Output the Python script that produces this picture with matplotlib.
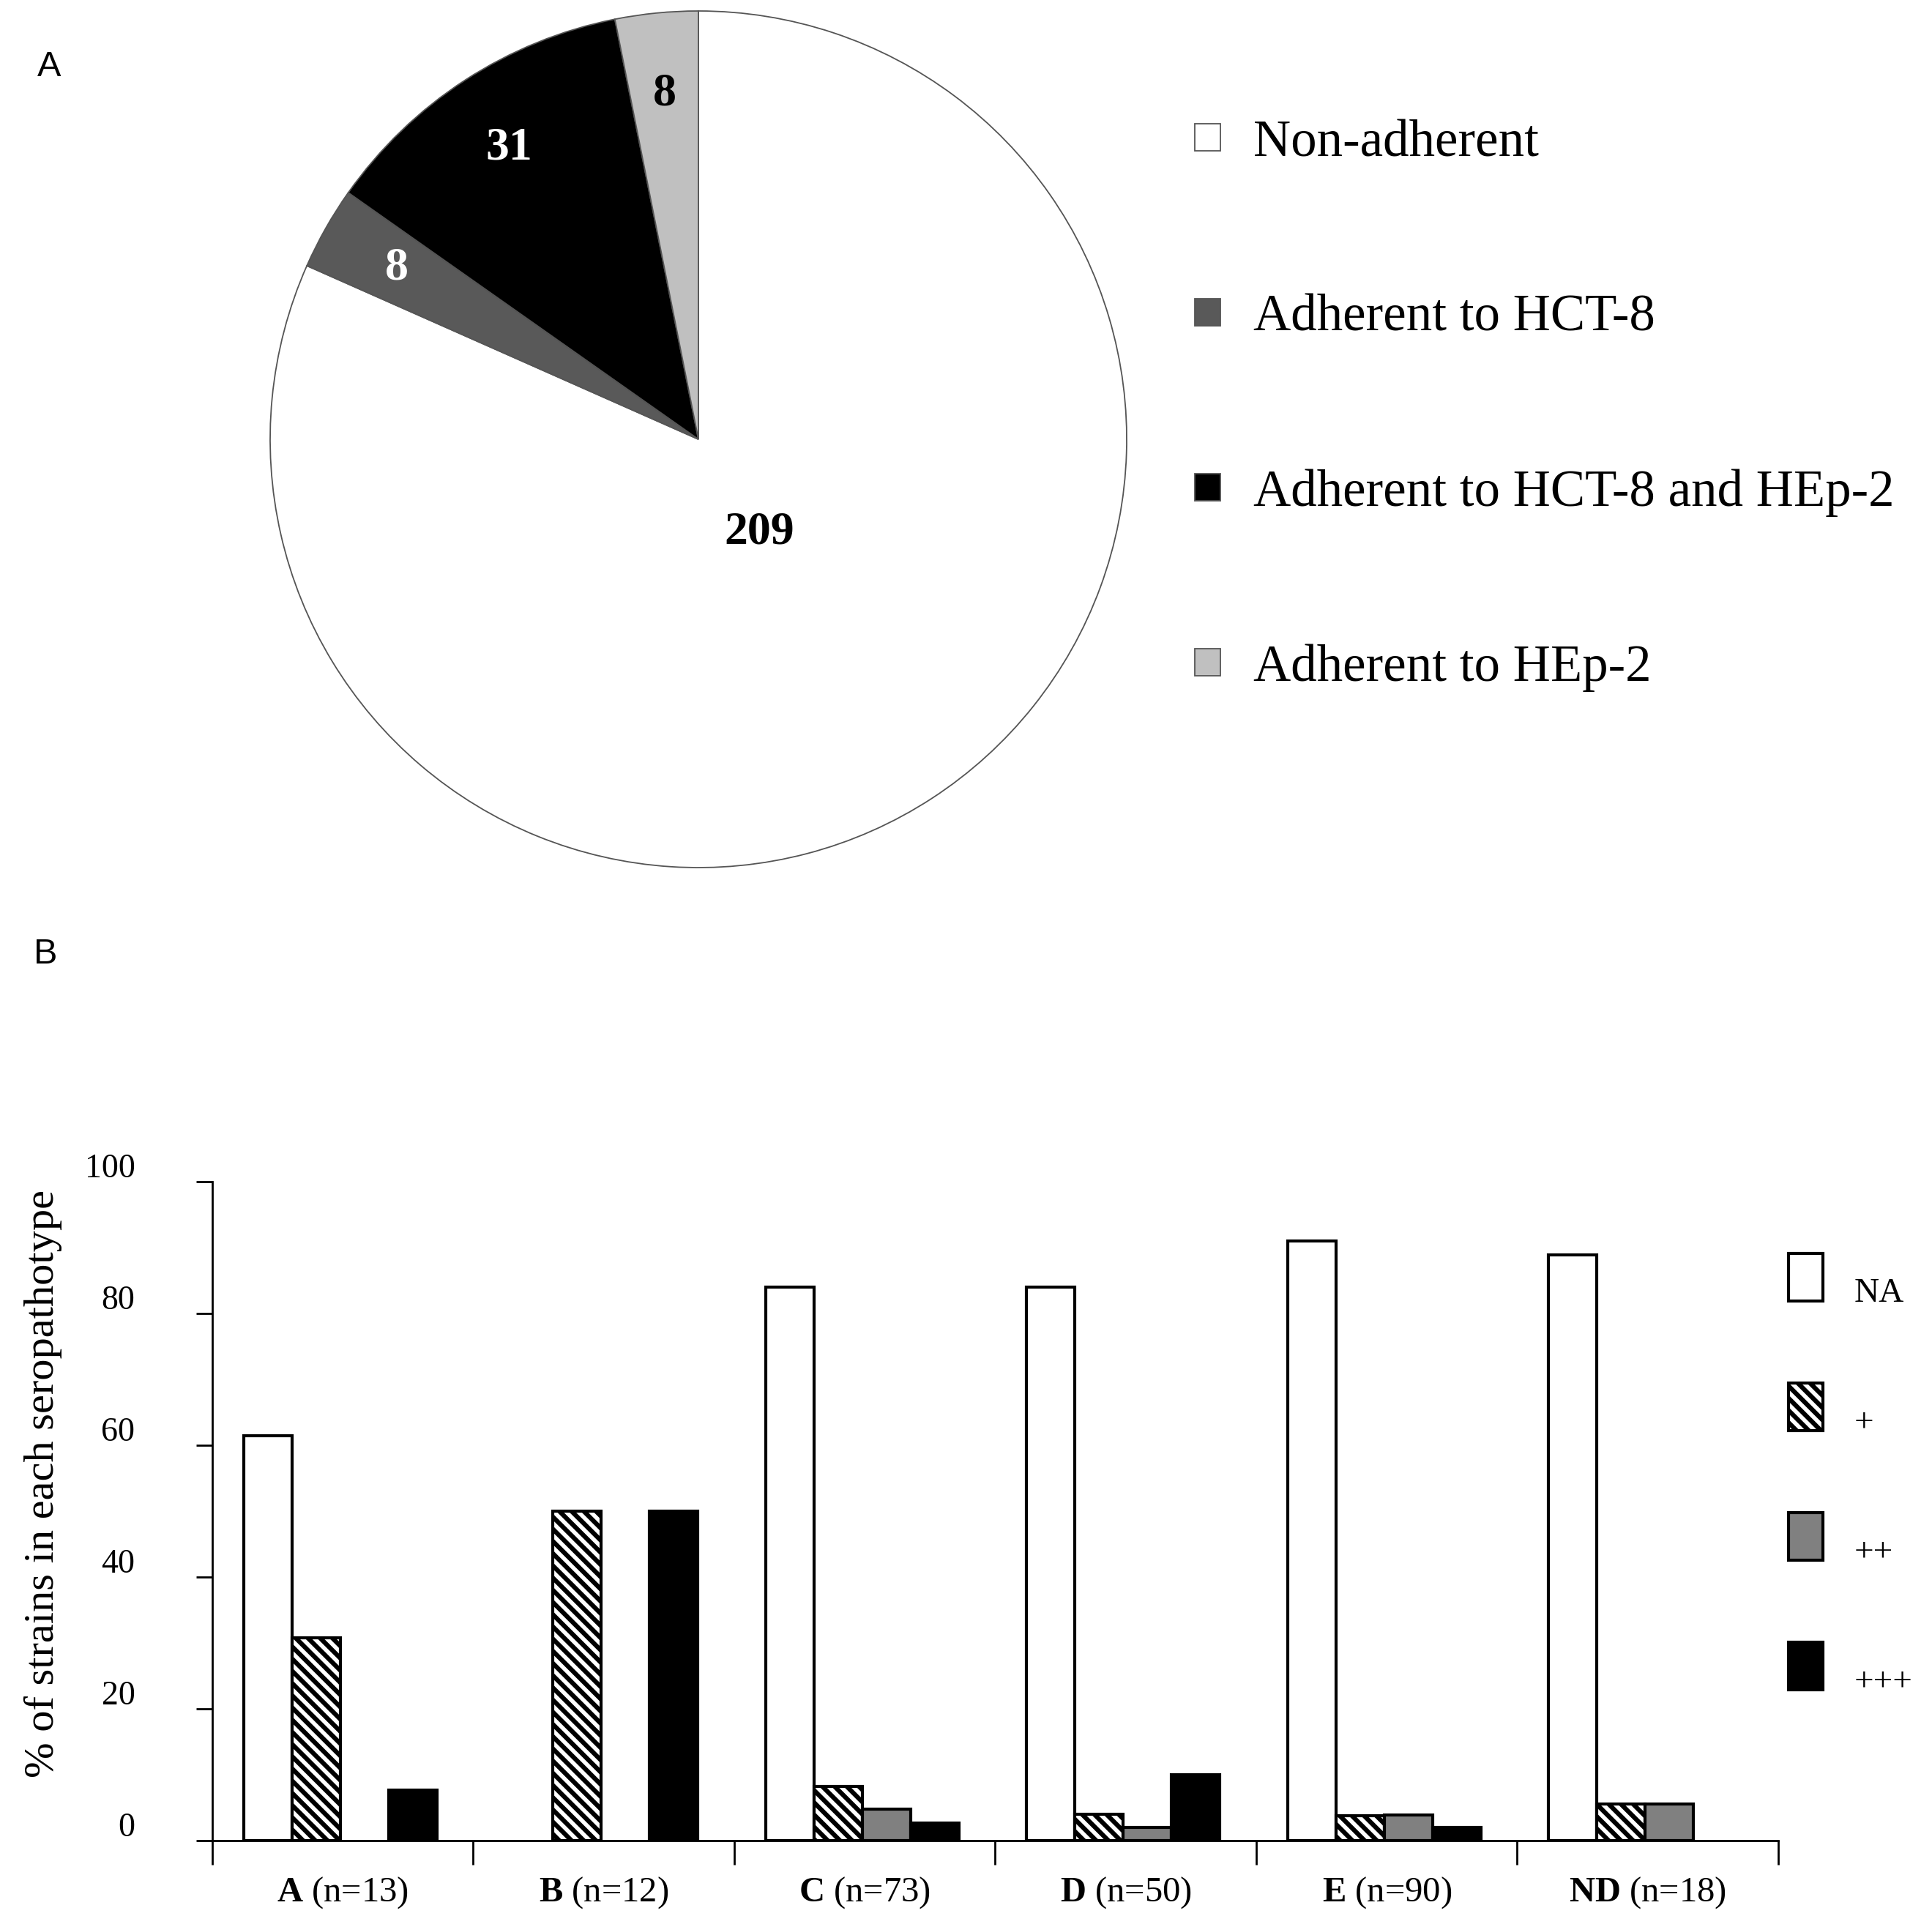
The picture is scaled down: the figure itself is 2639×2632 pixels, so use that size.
import numpy as np
import matplotlib
matplotlib.use("Agg")
import matplotlib.pyplot as plt
import matplotlib.transforms as mtransforms

plt.rcParams["font.family"] = ["Liberation Serif", "DejaVu Serif"]
plt.rcParams["mathtext.fontset"] = "custom"
plt.rcParams["mathtext.rm"] = "Liberation Serif"
plt.rcParams["mathtext.bf"] = "Liberation Serif:bold"
plt.rcParams["hatch.linewidth"] = 4.5

# panel A: adherence of strains
pie_labels = ["Non-adherent", "Adherent to HCT-8", "Adherent to HCT-8 and HEp-2", "Adherent to HEp-2"]
pie_counts = [209, 8, 31, 8]
pie_colors = ["white", "#595959", "black", "#c0c0c0"]
pie_text_colors = ["black", "white", "white", "black"]

# panel B: % of strains per seropathotype
categories = ["A", "B", "C", "D", "E", "ND"]
n_strains = [13, 12, 73, 50, 90, 18]
na_vals = [61.5, 0, 84.0, 84.0, 91.0, 88.9]
plus_vals = [30.8, 50.0, 8.2, 4.0, 3.8, 5.6]
plus2_vals = [0, 0, 4.8, 2.0, 3.9, 5.6]
plus3_vals = [7.7, 50.0, 2.7, 10.0, 2.0, 0]
series_names = ["NA", "+", "++", "+++"]

W, H = 2639, 2632
fig = plt.figure(figsize=(W / 100, H / 100), dpi=100)

# ---------- pie ----------
r_px = 585
cx, cy = 954, 600
lim = 1.03
side = 2 * r_px * lim
ax1 = fig.add_axes([(cx - side / 2) / W, (H - cy - side / 2) / H, side / W, side / H])
wedges, texts = ax1.pie(
    pie_counts,
    colors=pie_colors,
    startangle=90,
    counterclock=False,
    labels=[str(c) for c in pie_counts],
    labeldistance=0.81,
    wedgeprops=dict(edgecolor="#555555", linewidth=1.3),
    textprops=dict(fontsize=46, fontweight="bold", ha="center", va="center"),
)
ax1.set_xlim(-lim, lim)
ax1.set_ylim(-lim, lim)
for t, c in zip(texts, pie_text_colors):
    t.set_color(c)
    t.set_ha("center")
# big slice label sits nearer the centre
x0, y0 = texts[0].get_position()
texts[0].set_position((x0 * 0.26 / 0.81, y0 * 0.26 / 0.81))

fig.legend(
    wedges, pie_labels,
    loc="upper left",
    bbox_to_anchor=(1632 / W, 1 - 163 / H),
    frameon=False,
    fontsize=51,
    handlelength=0.5,
    handleheight=0.42,
    handletextpad=0.63,
    labelspacing=2.45,
    borderpad=0,
    borderaxespad=0,
)

fig.text(67 / W, 1 - 92 / H, "A", fontsize=35, family="Liberation Sans", ha="center", va="center")
fig.text(62 / W, 1 - 1304 / H, "B", fontsize=35, family="Liberation Sans", ha="center", va="center")

# ---------- bars ----------
ax_l, ax_r, ax_t, ax_b = 290, 2429, 1614, 2514
ax2 = fig.add_axes([ax_l / W, (H - ax_b) / H, (ax_r - ax_l) / W, (ax_b - ax_t) / H])
x = np.arange(len(categories))
bw = 0.185
series = [na_vals, plus_vals, plus2_vals, plus3_vals]
faces = ["white", "white", "#808080", "black"]
hatches = [None, "\\\\", None, None]
handles = []
for i, (vals, fc, hz, name) in enumerate(zip(series, faces, hatches, series_names)):
    vals = np.asarray(vals, dtype=float)
    keep = vals > 0  # empty categories get no bar at all
    b = ax2.bar(x[keep] + (i - 1.5) * bw - 0.01, vals[keep], bw, color=fc, edgecolor="black",
                linewidth=3.0, hatch=hz, label=name, zorder=2)
    handles.append(b)

ax2.set_xlim(-0.5, len(categories) - 0.5)
ax2.set_ylim(0, 100)
for s in ["top", "right"]:
    ax2.spines[s].set_visible(False)
for s in ["left", "bottom"]:
    ax2.spines[s].set_linewidth(2.0)

ax2.set_yticks(np.arange(0, 101, 20))
ax2.tick_params(axis="y", length=16, width=2.0, pad=60, labelsize=33)
offset = mtransforms.ScaledTranslation(0, 0.22, fig.dpi_scale_trans)
for lab in ax2.get_yticklabels():
    lab.set_transform(lab.get_transform() + offset)

ax2.set_xticks(np.arange(-0.5, len(categories), 1.0))
ax2.set_xticklabels([])
ax2.tick_params(axis="x", which="major", length=24, width=2.0)
ax2.set_xticks(x, minor=True)
ax2.set_xticklabels([r"$\mathbf{%s}$ (n=%d)" % (c, n) for c, n in zip(categories, n_strains)], minor=True)
ax2.tick_params(axis="x", which="minor", length=0, pad=34, labelsize=35)

fig.text(59 / W, 1 - 2027 / H, "% of strains in each seropathotype", rotation=90,
         fontsize=42, ha="center", va="center")

leg = fig.legend(
    handles, series_names,
    loc="upper left",
    bbox_to_anchor=(2443 / W, 1 - 1712 / H),
    frameon=False,
    fontsize=34,
    handlelength=1.0,
    handleheight=1.74,
    handletextpad=0.9,
    labelspacing=2.37,
    borderpad=0,
    borderaxespad=0,
)
# labels sit a little below the swatches in the original
for t in leg.get_texts():
    t.set_y(-18)

fig.savefig("out.png", dpi=100)
